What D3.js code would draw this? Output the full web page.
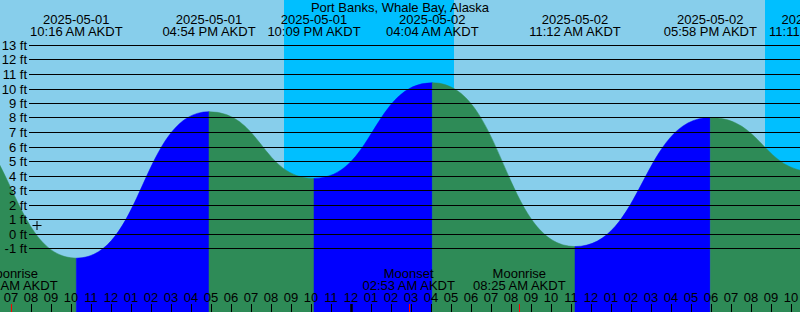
<!DOCTYPE html>
<html>
<head>
<meta charset="utf-8">
<script src="https://cdn.jsdelivr.net/npm/d3@7"></script>
<style>
  body { margin: 0; background: #fff; }
  svg { display: block; }
  text { font-family: "Liberation Sans", Arial, sans-serif; font-size: 13px; fill: #000; }
</style>
</head>
<body>
<svg></svg>
<script>
// chart data
const title = "Port Banks, Whale Bay, Alaska";
const tz = "AKDT";
// high / low tides (first and last are just off the picture)
const tideTimes = ["2025-05-01T03:45", "2025-05-01T10:16", "2025-05-01T16:54", "2025-05-01T22:09",
                   "2025-05-02T04:04", "2025-05-02T11:12", "2025-05-02T17:58", "2025-05-02T23:11"];
const tideHeights = [7.9, -1.7, 8.4, 3.8, 10.4, -0.9, 8.0, 4.25];
// night (sunset -> sunrise)
const nightStart = ["2025-05-01T20:39", "2025-05-02T20:42"];
const nightEnd = ["2025-05-02T05:09", "2025-05-03T05:05"];
// moon
const moonTimes = ["2025-05-01T07:01", "2025-05-02T02:53", "2025-05-02T08:25"];
const moonNames = ["Moonrise", "Moonset", "Moonrise"];
// the "+" mark
const markTime = "2025-05-01T08:18";
const markHeight = 0.55;
const feetTicks = d3.range(-1, 14);

const width = 800, height = 312;
const svg = d3.select("svg").attr("width", width).attr("height", height);

const parse = d3.timeParse("%Y-%m-%dT%H:%M");
const t0 = parse("2025-05-01T07:00");
const x = d3.scaleTime()
    .domain([t0, d3.timeHour.offset(t0, 40)])
    .range([11, 811]);
const y = d3.scaleLinear().domain([-1, 13]).range([248, 45]);

const fmtDate = d3.timeFormat("%Y-%m-%d");
const fmtTime = d => d3.timeFormat("%I:%M %p")(d) + " " + tz;

// sky
svg.append("rect").attr("width", width).attr("height", height).attr("fill", "#87ceeb");
svg.selectAll("rect.night")
    .data(nightStart.map((s, i) => [parse(s), parse(nightEnd[i])]))
    .enter().append("rect")
    .attr("class", "night")
    .attr("x", d => x(d[0]))
    .attr("width", d => x(d[1]) - x(d[0]))
    .attr("y", 0).attr("height", height)
    .attr("fill", "#00bfff");

// water, rising = blue, falling = green
const tides = tideTimes.map((t, i) => ({ t: parse(t), h: tideHeights[i] }));
const segs = d3.pairs(tides);
const area = d3.area()
    .x(d => x(d.t))
    .y0(height)
    .y1(d => y(d.h))
    .curve(d3.curveBumpX);
svg.selectAll("path.tide")
    .data(segs)
    .enter().append("path")
    .attr("class", "tide")
    .attr("d", d => area(d))
    .attr("fill", d => d[1].h > d[0].h ? "#0000ff" : "#2e8b57")
    .attr("stroke", d => d[1].h > d[0].h ? "#0000ff" : "#2e8b57")
    .attr("stroke-width", 0.5);

// feet lines
svg.selectAll("line.grid")
    .data(feetTicks)
    .enter().append("line")
    .attr("x1", 29).attr("x2", width)
    .attr("y1", d => Math.round(y(d)) + 0.5)
    .attr("y2", d => Math.round(y(d)) + 0.5)
    .attr("stroke", "#000");
svg.selectAll("text.ft")
    .data(feetTicks)
    .enter().append("text")
    .attr("x", 27)
    .attr("y", d => Math.round(y(d)) + 5)
    .attr("text-anchor", "end")
    .text(d => d + " ft");

// title and tide labels
svg.append("text").attr("x", 400).attr("y", 11.5).attr("text-anchor", "middle").text(title);
const tl = svg.selectAll("g.tl").data(tides).enter().append("g")
    .attr("transform", d => `translate(${x(d.t)},0)`)
    .attr("text-anchor", "middle");
tl.append("text").attr("y", 24).text(d => fmtDate(d.t));
tl.append("text").attr("y", 36).text(d => fmtTime(d.t));

// moon labels
const moon = moonTimes.map((t, i) => ({ t: parse(t), name: moonNames[i] }));
const ml = svg.selectAll("g.ml").data(moon).enter().append("g")
    .attr("transform", d => `translate(${x(d.t)},0)`)
    .attr("text-anchor", "middle");
ml.append("text").attr("y", 278).text(d => d.name);
ml.append("text").attr("y", 290).text(d => fmtTime(d.t));

// hour ticks
const hours = d3.timeHour.range(d3.timeHour.offset(t0, -1), d3.timeHour.offset(t0, 41));
svg.selectAll("text.hr")
    .data(hours)
    .enter().append("text")
    .attr("x", d => x(d))
    .attr("y", 302)
    .attr("text-anchor", "middle")
    .text(d3.timeFormat("%I"));
svg.selectAll("line.hr")
    .data(hours)
    .enter().append("line")
    .attr("x1", d => Math.round(x(d)) + 0.5)
    .attr("x2", d => Math.round(x(d)) + 0.5)
    .attr("y1", 304).attr("y2", height)
    .attr("stroke", "#000")
    .attr("stroke-width", d => d.getHours() === 0 ? 2.5 : 1);
svg.selectAll("line.moon")
    .data(moon)
    .enter().append("line")
    .attr("x1", d => Math.round(x(d.t)) + 0.5)
    .attr("x2", d => Math.round(x(d.t)) + 0.5)
    .attr("y1", 304).attr("y2", height)
    .attr("stroke", "#ff0000");

// "+" mark
const mx = x(parse(markTime)), my = y(markHeight);
svg.append("path")
    .attr("d", `M${mx - 4.5},${my}H${mx + 4.5}M${mx},${my - 4.5}V${my + 4.5}`)
    .attr("stroke", "#000");
</script>
</body>
</html>
